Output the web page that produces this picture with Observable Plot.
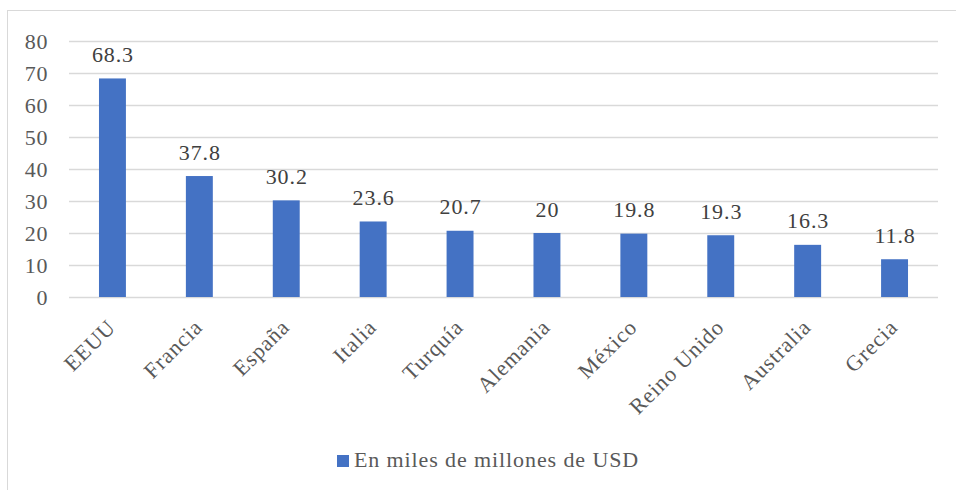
<!DOCTYPE html>
<html>
<head>
<meta charset="utf-8">
<script src="https://cdn.jsdelivr.net/npm/d3@7"></script>
<script src="https://cdn.jsdelivr.net/npm/@observablehq/plot@0.6"></script>
<style>
  html, body { margin: 0; padding: 0; background: #fff; }
  #wrap { position: relative; width: 956px; height: 490px; overflow: hidden; font-family: 'Liberation Serif', 'DejaVu Serif', serif; }
  #frame { position: absolute; left: 7px; top: 10px; width: 1000px; height: 600px; border: 1.5px solid #d9d9d9; box-sizing: border-box; }
  #chart { position: absolute; left: 0; top: 0; }
  #legend { position: absolute; left: 0; top: 447px; width: 976px; text-align: center; font-size: 22px; letter-spacing: 0.9px; color: #595959; white-space: nowrap; font-family: 'Liberation Serif', 'DejaVu Serif', serif; }
  #legend .sw { display: inline-block; width: 12px; height: 12px; background: #4472C4; margin-right: 5px; vertical-align: 0px; }
  #chart svg text { font-family: 'Liberation Serif', 'DejaVu Serif', serif; letter-spacing: 0.9px; }
  #chart svg g[aria-label="xlabels"] text { letter-spacing: 0.6px; }
</style>
</head>
<body>
<div id="wrap">
  <div id="frame"></div>
  <div id="chart"></div>
  <div id="legend"><span class="sw"></span>En miles de millones de USD</div>
</div>
<script>
const paises = ["EEUU", "Francia", "España", "Italia", "Turquía", "Alemania", "México", "Reino Unido", "Australia", "Grecia"];
const valores = [68.3, 37.8, 30.2, 23.6, 20.7, 20, 19.8, 19.3, 16.3, 11.8];
const yTicks = [0, 10, 20, 30, 40, 50, 60, 70, 80];
const serie = "En miles de millones de USD";

const data = paises.map((p, i) => ({pais: p, valor: valores[i]}));
const FONT = "'Liberation Serif', 'DejaVu Serif', serif";

const chart = Plot.plot({
  width: 956,
  height: 440,
  marginLeft: 69,
  marginRight: 18,
  marginTop: 41,
  marginBottom: 143,
  style: {fontFamily: FONT, fontSize: "22px", color: "#595959", background: "transparent"},
  x: {domain: paises, paddingInner: 0.69, paddingOuter: 0.345, round: false, label: null, axis: null},
  y: {domain: [0, 80], label: null, axis: null},
  marks: [
    Plot.ruleY(yTicks, {stroke: "#d9d9d9", strokeWidth: 1.3}),
    Plot.axisY({ticks: yTicks, tickSize: 0, tickPadding: 21, fontSize: 22, fill: "#595959", label: null, tickFormat: d => String(d)}),
    Plot.barY(data, {x: "pais", y: "valor", fill: "#4472C4"}),
    Plot.text(data, {x: "pais", y: "valor", text: d => String(d.valor), dy: -17, lineAnchor: "bottom", fontSize: 22, fill: "#404040"}),
    Plot.text(data, {x: "pais", y: () => 0, text: "pais", rotate: -45, textAnchor: "end", lineAnchor: "top", dx: -7, dy: 20, fontSize: 22, fill: "#595959", ariaLabel: "xlabels"})
  ]
});
document.getElementById("chart").appendChild(chart);
</script>
</body>
</html>
